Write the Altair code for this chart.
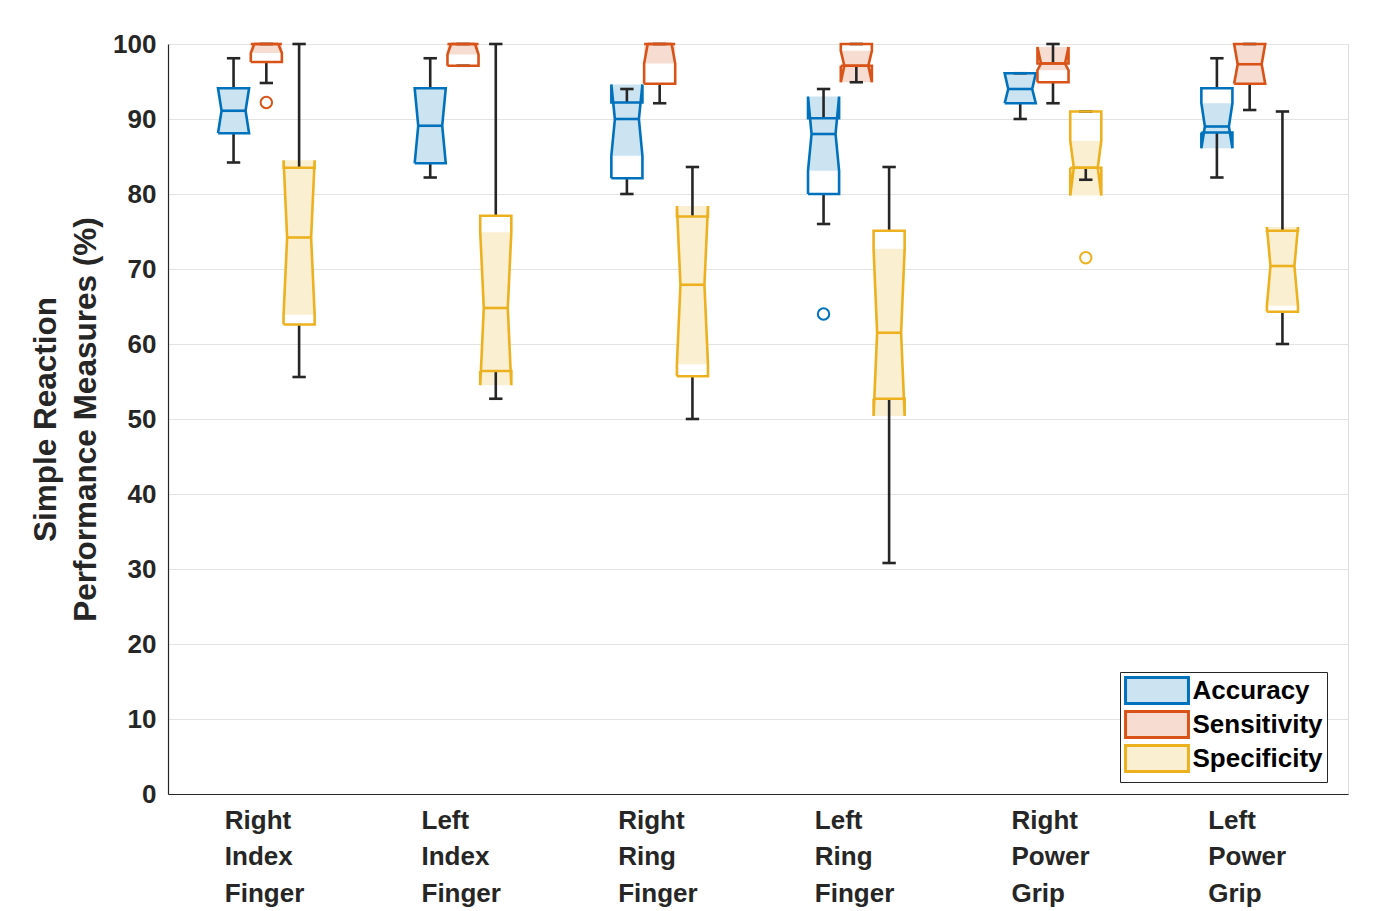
import altair as alt
import pandas as pd

categories = ["Right Index Finger", "Left Index Finger", "Right Ring Finger",
              "Left Ring Finger", "Right Power Grip", "Left Power Grip"]
series = ["Accuracy", "Sensitivity", "Specificity"]
dark_colors = ["#0072BD", "#D95319", "#EDB120"]
light_colors = ["#CCE3F2", "#F7DDD1", "#FBEFD2"]

# Accuracy
acc_whi = [98.1, 98.1, 94.0, 94.0, 96.1, 98.1]
acc_q3 = [94.1, 94.1, 92.2, 90.1, 96.1, 94.1]
acc_nhi = [94.1, 94.1, 94.6, 93.0, 96.1, 92.1]
acc_med = [91.1, 89.1, 90.0, 88.0, 94.0, 89.0]
acc_nlo = [88.1, 84.1, 85.1, 83.1, 92.1, 86.1]
acc_q1 = [88.1, 84.1, 82.1, 80.0, 92.1, 88.2]
acc_wlo = [84.2, 82.2, 80.0, 76.0, 90.0, 82.2]
# Sensitivity
sens_whi = [100, 100, 100, 100, 100, 100]
sens_q3 = [100, 100, 100, 100, 97.4, 100]
sens_nhi = [100, 100, 100, 99.1, 99.6, 100]
sens_med = [100, 100, 100, 97.1, 97.4, 97.3]
sens_nlo = [98.8, 98.6, 97.4, 94.9, 96.5, 94.7]
sens_q1 = [97.6, 97.1, 94.7, 97.1, 94.9, 94.7]
sens_wlo = [94.8, 97.1, 92.1, 94.9, 92.1, 91.2]
# Specificity
spec_whi = [100, 100, 83.6, 83.6, 91.0, 91.0]
spec_q3 = [83.5, 77.1, 77.0, 75.1, 91.0, 75.1]
spec_nhi = [84.5, 74.9, 78.4, 72.7, 87.1, 75.6]
spec_med = [74.2, 64.8, 67.9, 61.5, 83.5, 70.4]
spec_nlo = [63.9, 54.5, 57.3, 50.4, 79.8, 65.1]
spec_q1 = [62.6, 56.4, 55.7, 52.7, 83.5, 64.3]
spec_wlo = [55.6, 52.7, 50.0, 30.8, 81.9, 60.0]

# Outliers
out_group = [1, 4, 5]
out_series = ["Sensitivity", "Accuracy", "Specificity"]
out_value = [92.2, 64.0, 71.5]

stats = {
    "Accuracy": (acc_wlo, acc_q1, acc_nlo, acc_med, acc_nhi, acc_q3, acc_whi),
    "Sensitivity": (sens_wlo, sens_q1, sens_nlo, sens_med, sens_nhi, sens_q3, sens_whi),
    "Specificity": (spec_wlo, spec_q1, spec_nlo, spec_med, spec_nhi, spec_q3, spec_whi),
}

OFFS = {"Accuracy": -1 / 6, "Sensitivity": 0.0, "Specificity": 1 / 6}
HW = 0.079   # half box width
NW = 0.061   # half notch width
CW = 0.034   # half cap width

fill_rows, line_rows, med_rows, whisk_rows, cap_rows = [], [], [], [], []
for s in series:
    wlo, q1, nlo, med, nhi, q3, whi = stats[s]
    for i in range(len(categories)):
        pos = i + 1 + OFFS[s]
        box = f"{s}-{i}"
        for yv, w in [(nlo[i], HW), (med[i], NW), (nhi[i], HW)]:
            fill_rows.append(dict(box=box, series=s, y=yv, xl=pos - w, xr=pos + w))
        path = [(q1[i], -HW), (nlo[i], -HW), (med[i], -NW), (nhi[i], -HW), (q3[i], -HW),
                (q3[i], HW), (nhi[i], HW), (med[i], NW), (nlo[i], HW), (q1[i], HW), (q1[i], -HW)]
        for k, (yv, dx) in enumerate(path):
            line_rows.append(dict(box=box, series=s, y=yv, x=pos + dx, order=k))
        med_rows.append(dict(series=s, y=med[i], x=pos - NW, x2=pos + NW))
        whisk_rows.append(dict(x=pos, y=q3[i], y2=whi[i]))
        whisk_rows.append(dict(x=pos, y=q1[i], y2=wlo[i]))
        cap_rows.append(dict(x=pos - CW, x2=pos + CW, y=whi[i]))
        cap_rows.append(dict(x=pos - CW, x2=pos + CW, y=wlo[i]))

out_df = pd.DataFrame(dict(x=[g + OFFS[s] for g, s in zip(out_group, out_series)],
                           y=out_value, series=out_series))
fill_df = pd.DataFrame(fill_rows)
line_df = pd.DataFrame(line_rows)
med_df = pd.DataFrame(med_rows)
whisk_df = pd.DataFrame(whisk_rows)
cap_df = pd.DataFrame(cap_rows)

FONT = "Liberation Sans"
label_list = "[" + ",".join("'" + c + "'" for c in categories) + "]"

xscale = alt.Scale(domain=[0.5, 6.5], nice=False, zero=False)
yscale = alt.Scale(domain=[0, 100], nice=False, zero=False)

xaxis = alt.Axis(values=[1, 2, 3, 4, 5, 6], title=None, grid=False, ticks=False,
                 labelExpr=f"split({label_list}[datum.value - 1], ' ')",
                 labelAlign="left", labelOffset=-42, labelBaseline="top",
                 labelLineHeight=36.5, labelFontSize=26, labelFontWeight="bold",
                 labelFont=FONT, labelColor="#262626", labelPadding=13,
                 domainColor="#262626", domainWidth=1.2)
yaxis = alt.Axis(values=list(range(0, 101, 10)), grid=True, gridColor="#E3E3E3",
                 ticks=False, labelFontSize=26, labelFontWeight="bold", labelFont=FONT,
                 labelColor="#262626", labelPadding=12, domainColor="#262626",
                 domainWidth=1.2,
                 title=["Simple Reaction", "Performance Measures (%)"],
                 titleFontSize=31.5, titleFontWeight="bold", titleFont=FONT,
                 titleColor="#262626", titleLineHeight=40, titlePadding=10)

legend = alt.Legend(orient="none", legendX=952, legendY=628, title=None,
                    symbolType="M-2.42,-1H2.42V1H-2.42Z", symbolSize=676,
                    symbolStrokeWidth=3, symbolOffset=18.5, labelOffset=21,
                    labelFontSize=26, labelFontWeight="bold", labelFont=FONT,
                    labelColor="black", rowPadding=-5, padding=4,
                    strokeColor="#262626", fillColor="white", symbolOpacity=1)

fill_scale = alt.Scale(domain=series, range=light_colors)
stroke_scale = alt.Scale(domain=series, range=dark_colors)

fills = alt.Chart(fill_df).mark_area(orient="horizontal", opacity=1).encode(
    y=alt.Y("y:Q", scale=yscale, axis=yaxis),
    x=alt.X("xl:Q", scale=xscale, axis=xaxis),
    x2="xr:Q",
    detail="box:N",
    fill=alt.Fill("series:N", scale=fill_scale, legend=legend),
)

whiskers = alt.Chart(whisk_df).mark_rule(color="#262626", strokeWidth=2.6).encode(
    x="x:Q", y="y:Q", y2="y2:Q")
caps = alt.Chart(cap_df).mark_rule(color="#262626", strokeWidth=2.6).encode(
    x="x:Q", x2="x2:Q", y="y:Q")

outlines = alt.Chart(line_df).mark_line(strokeWidth=2.6, strokeJoin="miter").encode(
    x="x:Q", y="y:Q", order="order:Q", detail="box:N",
    stroke=alt.Stroke("series:N", scale=stroke_scale, legend=legend),
)
medians = alt.Chart(med_df).mark_rule(strokeWidth=2.6).encode(
    x="x:Q", x2="x2:Q", y="y:Q",
    stroke=alt.Stroke("series:N", scale=stroke_scale, legend=legend),
)
outliers = alt.Chart(out_df).mark_point(shape="circle", size=130, strokeWidth=2,
                                        filled=False, opacity=1).encode(
    x="x:Q", y="y:Q",
    stroke=alt.Stroke("series:N", scale=stroke_scale, legend=legend),
)

chart = alt.layer(fills, whiskers, caps, outlines, medians, outliers).properties(
    width=1180, height=750,
    autosize=alt.AutoSizeParams(type="none"),
    padding={"left": 160, "top": 36, "right": 40, "bottom": 114},
).configure_view(strokeWidth=0, stroke="transparent").configure(background="white")

chart.save("out.html", embed_options={"renderer": "svg", "actions": False})
